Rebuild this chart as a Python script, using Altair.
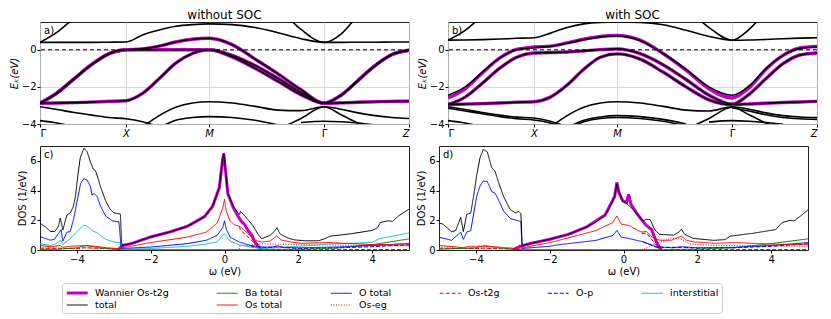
import altair as alt
import pandas as pd

N = None
# k-path positions of the high-symmetry points and sampling grid
KTICK = [0.0, 1.0, 1.97, 3.31, 4.30]
K = [0.0, 0.2, 0.4, 0.6, 0.8, 1.0,
     1.194, 1.388, 1.582, 1.776, 1.97,
     2.238, 2.506, 2.774, 3.042, 3.31,
     3.508, 3.706, 3.904, 4.102, 4.30]

# ---- panel a: bands without SOC ----
A_T1 = [-2.88, -2.32, -1.55, -0.80, -0.22, 0.00, 0.00, 0.00, 0.00, 0.00, 0.00,
        -0.30, -0.85, -1.55, -2.30, -2.88, -2.45, -1.65, -0.85, -0.25, -0.02]
A_T2 = [-2.88, -2.87, -2.85, -2.82, -2.78, -2.75, -2.35, -1.56, -0.72, -0.20, 0.00,
        -0.38, -1.00, -1.70, -2.42, -2.88, -2.45, -1.65, -0.85, -0.25, -0.02]
A_T3 = [-2.88, -2.32, -1.55, -0.80, -0.22, 0.00, 0.05, 0.20, 0.42, 0.57, 0.62,
        0.28, -0.50, -1.30, -2.15, -2.88, -2.86, -2.83, -2.80, -2.78, -2.77]
A_U1 = [0.40, 0.40, 0.40, 0.40, 0.41, 0.42, 0.80, 1.07, 1.27, 1.36, 1.40,
        1.36, 1.20, 0.92, 0.60, 0.40, 0.40, 0.41, 0.41, 0.42, 0.42]
A_U2 = [N] * 13 + [2.30, 1.10, 0.40, 0.85, 1.90] + [N] * 3
A_U3 = [0.40, 0.95, 1.75] + [N] * 18
A_L1 = [-3.07, -3.22, -3.38, -3.52, -3.65, -3.72, -3.88, -4.15] + [N] * 13
A_L2 = [-3.82, -3.95, -4.15] + [N] * 18
A_L3 = [N] * 5 + [-4.60, -4.15, -3.55, -3.10, -2.87, -2.80,
                  -2.87, -3.05, -3.25, -3.28, -3.07, -3.20, -3.40, -3.55, -3.65, -3.70]
A_L4 = [N] * 7 + [-4.20, -3.80, -3.65, -3.60, -3.65, -3.80, -4.05] + [N] * 7
A_L5 = [N] * 13 + [-4.30, -3.70, -3.07, -3.50, -3.95, -4.30] + [N] * 2
A_L6 = [N] * 14 + [-3.92, -3.85, -3.88, -3.95, -4.05] + [N] * 2

# ---- panel b: bands with SOC ----
B_S1 = [-2.45, -2.00, -1.20, -0.45, 0.00, 0.12, 0.18, 0.35, 0.55, 0.70, 0.75,
        0.50, -0.20, -1.05, -2.00, -2.45, -1.95, -1.00, -0.30, 0.08, 0.15]
B_W1 = [-2.60, -2.10, -1.25, -0.45, 0.02, 0.15, 0.20, 0.37, 0.57, 0.72, 0.77,
        0.52, -0.20, -1.10, -2.10, -2.60, -2.05, -1.05, -0.30, 0.10, 0.18]
B_S2 = [-2.95, -2.55, -1.80, -1.00, -0.40, -0.17, -0.15, -0.12, -0.06, 0.01, 0.05,
        -0.20, -0.80, -1.60, -2.45, -2.93, -2.40, -1.55, -0.75, -0.28, -0.17]
B_S3 = [-2.95, -2.93, -2.90, -2.87, -2.83, -2.80, -2.55, -1.90, -1.05, -0.40, -0.22,
        -0.50, -1.20, -2.00, -2.70, -2.95, -2.92, -2.88, -2.84, -2.81, -2.78]
B_V1 = [0.52, 0.53, 0.55, 0.58, 0.62, 0.65, 0.90, 1.20, 1.40, 1.48, 1.50,
        1.48, 1.35, 1.05, 0.72, 0.52, 0.53, 0.56, 0.60, 0.63, 0.65]
B_V2 = [N] * 13 + [2.30, 1.20, 0.52, 1.10, 2.10] + [N] * 3
B_V3 = [0.52, 1.05, 1.85] + [N] * 18
B_L1A = [-3.07, -3.22, -3.38, -3.52, -3.63, -3.68, -3.85, -4.15] + [N] * 13
B_L1B = [-3.15, -3.30, -3.45, -3.60, -3.72, -3.78, -3.95, -4.25] + [N] * 13
B_L2 = [-3.82, -3.95, -4.15] + [N] * 18
B_L3 = [N] * 5 + [-4.60, -4.15, -3.55, -3.10, -2.87, -2.80,
                  -2.87, -3.05, -3.25, -3.30, -3.07, -3.20, -3.40, -3.55, -3.62, -3.65]
B_L3B = [N] * 15 + [-3.12, -3.30, -3.50, -3.65, -3.72, -3.75]
B_L4A = [N] * 7 + [-4.20, -3.80, -3.62, -3.55, -3.60, -3.75, -4.00] + [N] * 7
B_L4B = [N] * 7 + [-4.25, -3.88, -3.70, -3.65, -3.70, -3.85, -4.10] + [N] * 7
B_L5 = [N] * 13 + [-4.30, -3.70, -3.10, -3.50, -3.95, -4.30] + [N] * 2
B_L6 = [N] * 14 + [-3.90, -3.82, -3.85, -3.92, -4.02] + [N] * 2

# ---- panel c: DOS without SOC  (omega, value); N = gap where hidden under another curve ----
C_W = [(-2.90, 0.0), (-2.82, 0.15), (-2.76, 0.3), (-2.5, 0.45), (-2.0, 0.88), (-1.5, 1.2),
       (-1.0, 1.6), (-0.54, 2.25), (-0.32, 2.95), (-0.14, 4.2), (-0.05, 6.1), (-0.02, 6.5),
       (0.03, 5.3), (0.09, 3.8), (0.23, 2.9), (0.36, 2.3), (0.45, 1.95), (0.55, 1.7),
       (0.64, 1.3), (0.75, 0.95), (0.82, 0.55), (0.95, 0.15), (1.0, 0.02)]
C_TOTAL = [(-5.0, 1.8), (-4.85, 1.55), (-4.72, 1.25), (-4.6, 1.25), (-4.5, 1.6), (-4.45, 2.15),
           (-4.38, 1.35), (-4.3, 2.1), (-4.27, 2.35), (-4.18, 2.5), (-4.1, 2.9), (-4.04, 3.6),
           (-3.97, 5.1), (-3.91, 6.2), (-3.81, 6.85), (-3.72, 6.6), (-3.63, 5.9), (-3.56, 5.45),
           (-3.5, 5.35), (-3.45, 5.0), (-3.36, 4.25), (-3.22, 3.3), (-3.1, 2.75), (-3.0, 2.5),
           (-2.88, 2.45), (-2.82, 2.4), (-2.79, 0.5), (-2.76, 0.3), (-2.5, 0.45), (-2.0, 0.88),
           (-1.5, 1.2), (-1.0, 1.6), (-0.54, 2.25), (-0.32, 2.95), (-0.14, 4.2), (-0.05, 6.1),
           (-0.02, 6.5), (0.03, 5.3), (0.09, 3.8), (0.23, 3.0), (0.36, 2.5), (0.41, 2.4),
           (0.43, 2.6), (0.55, 2.3), (0.77, 1.64), (0.9, 1.1), (1.0, 0.76), (1.1, 0.85),
           (1.23, 0.98), (1.35, 1.25), (1.42, 1.5), (1.5, 1.1), (1.6, 0.95), (1.75, 0.78),
           (1.9, 0.68), (2.2, 0.62), (2.55, 0.62), (2.72, 0.76), (2.86, 0.93), (3.45, 1.1),
           (4.0, 1.32), (4.15, 1.5), (4.22, 1.85), (4.45, 1.97), (4.55, 1.92), (4.72, 2.3),
           (5.0, 2.75)]
C_BA = [(-5.0, 0.05), (-4.5, 0.05), (-4.0, 0.15), (-3.75, 0.3), (-3.4, 0.15), (-3.0, 0.05),
        (-2.8, 0.02), (0.0, 0.02), (2.0, 0.05), (3.0, 0.12), (4.0, 0.35), (5.0, 0.75)]
C_OS = [(-5.0, 0.3), (-4.7, 0.22), (-4.45, 0.3), (-4.38, 0.18), (-4.2, 0.25), (-3.8, 0.3),
        (-3.5, 0.25), (-3.2, 0.15), (-2.9, 0.1), (-2.82, 0.08), (-2.76, 0.15), (-2.0, 0.5),
        (-1.0, 0.87), (-0.5, 1.2), (-0.2, 1.8), (-0.05, 2.8), (0.0, 3.4), (0.05, 2.6),
        (0.15, 1.96), (0.27, 1.7), (0.4, 1.6), (0.43, 1.55), (0.64, 1.1), (0.82, 0.66),
        (1.0, 0.54), (1.23, 0.6), (1.41, 0.94), (1.55, 0.66), (1.8, 0.54), (2.09, 0.45),
        (2.81, 0.5), (3.45, 0.43), (4.0, 0.37), (5.0, 0.33)]
C_O = [(-5.0, 0.9), (-4.72, 0.66), (-4.61, 0.72), (-4.43, 1.37), (-4.38, 0.6), (-4.27, 1.2),
       (-4.18, 1.24), (-4.09, 2.07), (-3.97, 3.6), (-3.9, 4.47), (-3.81, 4.8), (-3.72, 4.7),
       (-3.63, 4.25), (-3.59, 3.7), (-3.53, 3.8), (-3.45, 3.6), (-3.36, 2.95), (-3.22, 2.29),
       (-3.04, 1.96), (-2.86, 1.9), (-2.8, 0.1), (-2.0, 0.2), (-1.0, 0.43), (-0.5, 0.65),
       (-0.2, 0.98), (-0.05, 1.5), (0.0, 1.96), (0.05, 1.4), (0.15, 0.87), (0.4, 0.54),
       (0.7, 0.3), (1.0, 0.2), (1.3, 0.2), (1.44, 0.28), (1.6, 0.18), (2.0, 0.15),
       (3.0, 0.2), (4.0, 0.3), (5.0, 0.45)]
C_T2G = [(-5.0, 0.12), (-4.0, 0.1), (-3.8, 0.15), (-3.0, 0.08), (-2.8, 0.03), N,
         (0.4, 1.6), (0.43, 1.35), (0.64, 0.87), (0.82, 0.45), (1.0, 0.05), (2.0, 0.03),
         (5.0, 0.03)]
C_EG = [(-5.0, 0.15), (-4.0, 0.1), (-3.8, 0.15), (-2.8, 0.05), (-2.7, 0.0), (0.4, 0.0),
        (0.42, 0.3), (0.6, 0.3), (1.0, 0.42), (2.0, 0.35), (3.0, 0.33), (5.0, 0.28)]
C_OP = [(0.7, 0.27), (1.0, 0.14), (1.44, 0.2), (2.0, 0.1), (3.0, 0.14), (4.0, 0.22),
        (5.0, 0.36)]
C_INT = [(-5.0, 0.43), (-4.72, 0.3), (-4.61, 0.37), (-4.43, 0.65), (-4.38, 0.37), (-4.18, 0.76),
         (-3.97, 1.31), (-3.81, 1.68), (-3.72, 1.6), (-3.59, 1.31), (-3.45, 1.15), (-3.22, 0.72),
         (-3.0, 0.54), (-2.83, 0.48), (-2.8, 0.05), (-2.0, 0.1), (-1.0, 0.25), (-0.5, 0.4),
         (-0.2, 0.55), (0.0, 1.1), (0.15, 0.6), (0.4, 0.35), (0.7, 0.2), (1.0, 0.1),
         (2.0, 0.25), (2.8, 0.4), (3.5, 0.45), (4.0, 0.52), (4.2, 0.76), (5.0, 1.15)]

# ---- panel d: DOS with SOC ----
D_W = [(-3.0, 0.0), (-2.8, 0.25), (-2.72, 0.3), (-2.5, 0.45), (-2.0, 0.72), (-1.5, 1.05),
       (-1.0, 1.55), (-0.5, 2.35), (-0.24, 3.6), (-0.18, 4.55), (-0.13, 3.9), (-0.02, 3.3),
       (0.08, 3.2), (0.14, 3.75), (0.2, 3.1), (0.35, 2.5), (0.48, 2.07), (0.62, 1.65),
       (0.76, 1.38), (0.89, 0.55), (0.98, 0.15), (1.03, 0.0)]
D_TOTAL = [(-5.0, 1.8), (-4.9, 1.75), (-4.66, 1.24), (-4.55, 1.3), (-4.41, 2.2), (-4.34, 1.24),
           (-4.25, 2.4), (-4.14, 2.48), (-4.05, 3.8), (-3.98, 5.0), (-3.89, 6.2), (-3.8, 6.77),
           (-3.69, 6.6), (-3.57, 5.52), (-3.48, 5.3), (-3.39, 4.58), (-3.25, 3.6), (-3.07, 2.72),
           (-2.93, 2.5), (-2.84, 2.6), (-2.78, 2.45), (-2.75, 0.5), (-2.72, 0.3), (-2.5, 0.45),
           (-2.0, 0.72), (-1.5, 1.05), (-1.0, 1.55), (-0.74, 1.9), (-0.5, 2.35), (-0.38, 2.85),
           (-0.24, 3.6), (-0.18, 4.45), (-0.13, 4.0), (-0.02, 3.3), (0.12, 3.05), (0.35, 2.5),
           (0.53, 1.96), (0.62, 2.07), (0.72, 2.05), (0.85, 1.35), (0.98, 1.05), (1.35, 1.0),
           (1.5, 1.2), (1.57, 1.4), (1.66, 1.05), (1.89, 0.78), (2.44, 0.65), (2.75, 0.7),
           (2.89, 0.93), (3.52, 1.13), (4.12, 1.37), (4.3, 1.85), (4.52, 2.0), (4.62, 1.96),
           (4.8, 2.29), (5.0, 2.7)]
D_BA = [(-5.0, 0.05), (-4.0, 0.15), (-3.75, 0.3), (-3.4, 0.15), (-3.0, 0.05), (-2.8, 0.02),
        (0.0, 0.02), (2.0, 0.05), (3.0, 0.15), (4.0, 0.43), (5.0, 0.75)]
D_OS = [(-5.0, 0.3), (-4.5, 0.2), (-4.35, 0.15), (-4.2, 0.25), (-3.8, 0.25), (-3.4, 0.2),
        (-3.0, 0.12), (-2.8, 0.05), (-2.72, 0.15), (-2.0, 0.5), (-1.83, 0.6), (-0.74, 1.31),
        (-0.29, 1.85), (-0.18, 2.29), (-0.06, 1.74), (0.17, 1.64), (0.39, 1.31), (0.5, 1.2),
        (0.62, 1.25), (0.75, 0.9), (0.98, 0.66), (1.3, 0.66), (1.57, 0.94), (1.7, 0.66),
        (1.89, 0.55), (2.5, 0.45), (3.0, 0.5), (4.0, 0.4), (5.0, 0.35)]
D_O = [(-5.0, 0.87), (-4.66, 0.65), (-4.41, 1.2), (-4.34, 0.72), (-4.25, 1.2), (-4.14, 1.3),
       (-4.05, 2.6), (-3.98, 3.6), (-3.89, 4.3), (-3.8, 4.65), (-3.69, 4.6), (-3.57, 3.93),
       (-3.48, 3.82), (-3.39, 3.38), (-3.25, 2.62), (-3.07, 2.12), (-2.84, 1.96), (-2.78, 1.9),
       (-2.75, 0.1), (-2.0, 0.25), (-1.83, 0.33), (-0.74, 0.65), (-0.29, 0.98), (-0.18, 1.31),
       (-0.06, 0.87), (0.17, 0.76), (0.53, 0.55), (0.89, 0.22), (1.35, 0.15), (1.57, 0.22),
       (2.0, 0.15), (3.0, 0.18), (4.0, 0.3), (5.0, 0.5)]
D_T2G = [(-5.0, 0.12), (-4.0, 0.1), (-3.8, 0.12), (-3.0, 0.06), (-2.8, 0.03), N,
         (0.5, 1.1), (0.62, 1.15), (0.8, 0.6), (0.95, 0.1), (1.1, 0.03), (5.0, 0.03)]
D_EG = [(-5.0, 0.15), (-4.0, 0.1), (-3.8, 0.15), (-2.8, 0.05), (-2.7, 0.0), (0.5, 0.0),
        (0.9, 0.45), (1.3, 0.8), (1.55, 0.75), (1.8, 0.4), (2.5, 0.3), (5.0, 0.25)]
D_OP = [(0.53, 0.55), (0.89, 0.18), (1.57, 0.18), (2.0, 0.12), (3.0, 0.15), (4.0, 0.25),
        (5.0, 0.42)]

# legend order (row-major, 6 columns) and styles
SERIES = ["Wannier Os-t2g", "Ba total", "O total", "Os-t2g", "O-p", "interstitial",
          "total", "Os total", "Os-eg"]
COLORS = ["#bf00bf", "#008000", "#0000ff", "#ff0000", "#0000ff", "#00bfbf",
          "#000000", "#ff0000", "#ff0000"]
DASHES = [[1, 0], [1, 0], [1, 0], [4, 2], [4, 2], [1, 0], [1, 0], [1, 0], [1, 1.6]]
WIDTHS = [3, 1, 1, 1, 1, 1, 1, 1, 1]
UNDER = ["Os-t2g", "Os-eg", "O-p"]   # drawn below the other DOS curves

FONT = "DejaVu Sans"
W_PANEL = 369
H_BAND = 102
H_DOS = 104


def band_df(bands):
    rows = []
    for name, vals in bands.items():
        for k, e in zip(K, vals):
            if e is not None:
                rows.append({"band": name, "k": k, "E": e})
    return pd.DataFrame(rows)


def dos_df(series):
    rows = []
    for name, pts in series.items():
        seg = 0
        for p in pts:
            if p is None:
                seg += 1
                continue
            rows.append({"series": name, "seg": f"{name}-{seg}", "w": p[0], "v": p[1]})
    return pd.DataFrame(rows)


KLABEL = ("datum.value < 0.5 ? 'Γ' : datum.value < 1.5 ? 'X' : "
          "datum.value < 2.5 ? 'M' : datum.value < 4 ? 'Γ' : 'Z'")


def label_layer(txt):
    return alt.Chart(pd.DataFrame({"t": [txt]})).mark_text(
        align="left", baseline="top", fontSize=10, font=FONT, color="black"
    ).encode(x=alt.value(4), y=alt.value(4), text="t:N")


def band_panel(black, wann, title, lab):
    x = alt.X("k:Q", scale=alt.Scale(domain=[0, 4.30], nice=False, zero=False),
              axis=alt.Axis(values=KTICK, labelExpr=KLABEL, title=None, grid=True,
                            labelFontStyle={"condition": {"test": "datum.value < 0.5 || (datum.value > 3 && datum.value < 4)",
                                                          "value": "normal"}, "value": "italic"}))
    y = alt.Y("E:Q", scale=alt.Scale(domain=[-4, 1.5], nice=False, zero=False),
              axis=alt.Axis(values=[-4, -2, 0], title="Eₖ(eV)", titleFontStyle="italic", grid=True))
    w = alt.Chart(band_df(wann)).mark_line(color="#bf00bf", strokeWidth=3.4, clip=True,
                                           interpolate="monotone").encode(
        x=x, y=y, detail="band:N", order="k:Q")
    b = alt.Chart(band_df(black)).mark_line(color="black", strokeWidth=1.6, clip=True,
                                            interpolate="monotone").encode(
        x=x, y=y, detail="band:N", order="k:Q")
    zero = alt.Chart(pd.DataFrame({"E": [0.0]})).mark_rule(
        color="black", strokeDash=[4, 3], strokeWidth=1).encode(y="E:Q")
    return alt.layer(w, b, zero, label_layer(lab)).properties(
        width=W_PANEL, height=H_BAND,
        title=alt.TitleParams(title, fontSize=12, fontWeight="normal", font=FONT, offset=0))


LEG = alt.Legend(orient="none", legendX=22, legendY=261, direction="horizontal", columns=6,
                 symbolType="M-1,0H3", symbolSize=110, labelFontSize=9.5, labelFont=FONT,
                 strokeColor="#cccccc", cornerRadius=3, padding=3, columnPadding=45,
                 rowPadding=0, fillColor="white", labelLimit=200, labelOffset=16)


def dos_panel(series, lab):
    df = dos_df(series)
    x = alt.X("w:Q", scale=alt.Scale(domain=[-5, 5], nice=False),
              axis=alt.Axis(values=[-4, -2, 0, 2, 4], title="ω (eV)", grid=False))
    y = alt.Y("v:Q", scale=alt.Scale(domain=[0, 7], nice=False),
              axis=alt.Axis(values=[0, 2, 4, 6], title="DOS (1/eV)", grid=False))
    enc = dict(
        color=alt.Color("series:N", scale=alt.Scale(domain=SERIES, range=COLORS), legend=LEG, title=None),
        strokeDash=alt.StrokeDash("series:N", scale=alt.Scale(domain=SERIES, range=DASHES), legend=LEG, title=None),
        strokeWidth=alt.StrokeWidth("series:N", scale=alt.Scale(type="ordinal", domain=SERIES, range=WIDTHS),
                                    legend=LEG, title=None),
        detail="seg:N",
    )
    wl = alt.Chart(df[df.series == "Wannier Os-t2g"]).mark_line(clip=True).encode(
        x=x, y=y, order="w:Q", **enc)
    under = alt.Chart(df[df.series.isin(UNDER)]).mark_line(clip=True).encode(
        x=x, y=y, order="w:Q", **enc)
    rest = alt.Chart(df[~df.series.isin(UNDER + ["Wannier Os-t2g"])]).mark_line(clip=True).encode(
        x=x, y=y, order="w:Q", **enc)
    return alt.layer(wl, under, rest, label_layer(lab)).properties(width=W_PANEL, height=H_DOS)


a = band_panel({"t1": A_T1, "t2": A_T2, "t3": A_T3, "u1": A_U1, "u2": A_U2, "u3": A_U3,
                "l1": A_L1, "l2": A_L2, "l3": A_L3, "l4": A_L4, "l5": A_L5, "l6": A_L6},
               {"t1": A_T1, "t2": A_T2, "t3": A_T3}, "without SOC", "a)")
b = band_panel({"s1": B_S1, "s2": B_S2, "s3": B_S3, "v1": B_V1, "v2": B_V2, "v3": B_V3,
                "l1a": B_L1A, "l1b": B_L1B, "l2": B_L2, "l3": B_L3, "l3b": B_L3B,
                "l4a": B_L4A, "l4b": B_L4B, "l5": B_L5, "l6": B_L6},
               {"s1": B_W1, "s2": B_S2, "s3": B_S3}, "with SOC", "b)")
c = dos_panel({"Wannier Os-t2g": C_W, "Os-t2g": C_T2G, "Os-eg": C_EG, "O-p": C_OP,
               "Ba total": C_BA, "interstitial": C_INT, "O total": C_O, "Os total": C_OS,
               "total": C_TOTAL}, "c)")
d = dos_panel({"Wannier Os-t2g": D_W, "Os-t2g": D_T2G, "Os-eg": D_EG, "O-p": D_OP,
               "Ba total": D_BA, "O total": D_O, "Os total": D_OS, "total": D_TOTAL}, "d)")

top = alt.hconcat(a, b, spacing=6)
bottom = alt.hconcat(c, d, spacing=6).resolve_scale(color="shared", strokeDash="shared", strokeWidth="shared")
chart = alt.vconcat(top, bottom, spacing=6).resolve_scale(
    color="shared", strokeDash="shared", strokeWidth="shared"
).properties(padding=0).configure_view(
    stroke="#222222", strokeWidth=1
).configure_axis(
    labelFont=FONT, titleFont=FONT, labelFontSize=10, titleFontSize=10, titleFontWeight="normal",
    labelColor="black", titleColor="black", tickColor="black", tickSize=3, labelPadding=1,
    titlePadding=2, domain=False, gridColor="#d0d0d0", gridWidth=0.8
)

chart.save("out.html", embed_options={"renderer": "svg", "actions": False})
